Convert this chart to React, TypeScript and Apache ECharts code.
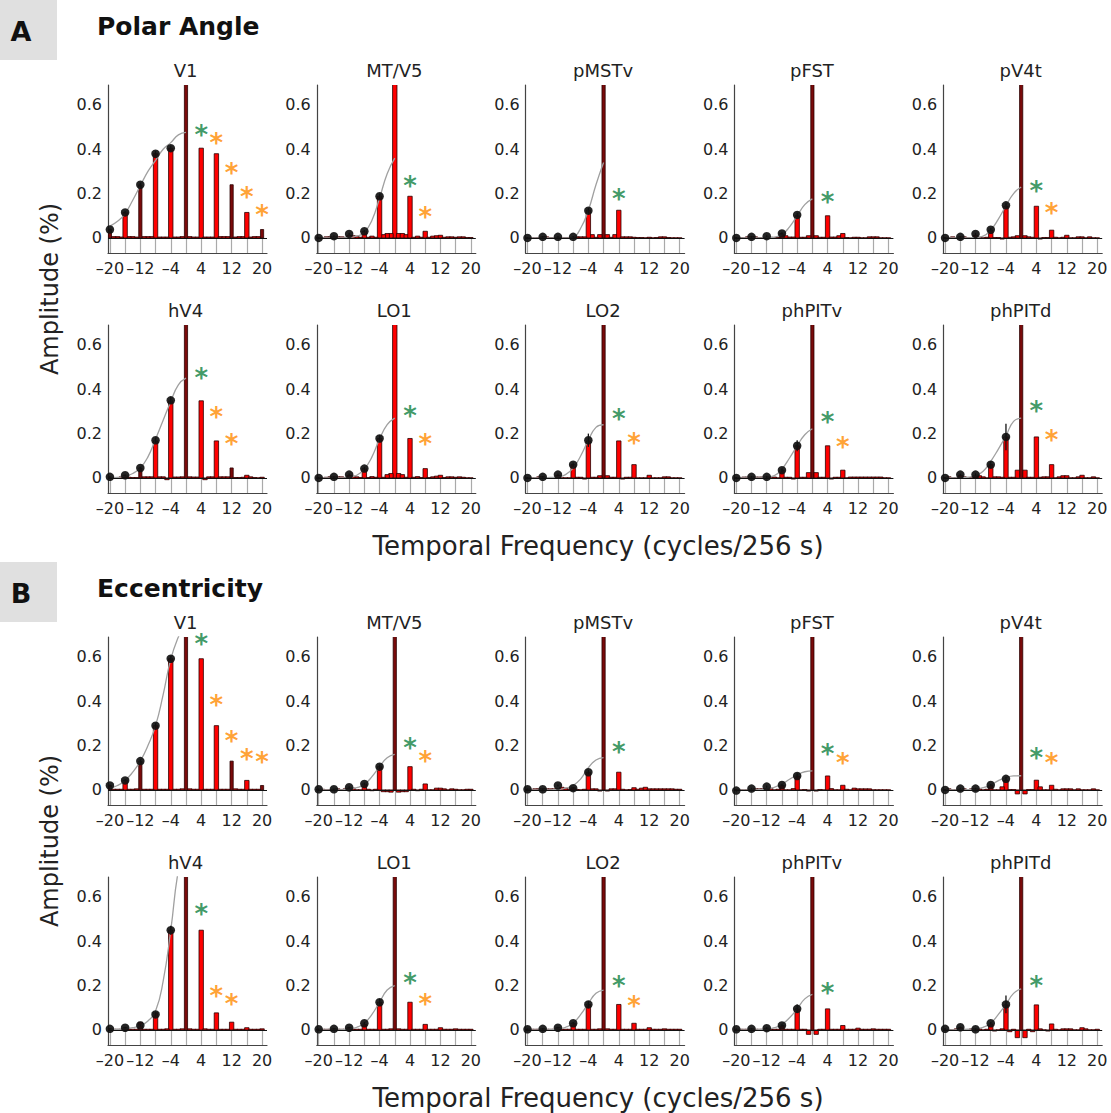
import React, { useEffect, useRef } from 'react';
import * as echarts from 'echarts';

// ---------------- DATA ----------------
const PANEL_NAMES = ['V1', 'MT/V5', 'pMSTv', 'pFST', 'pV4t', 'hV4', 'LO1', 'LO2', 'phPITv', 'phPITd'];
const HALF_FREQS = [0, 1, 2, 3, 4, 5, 6, 7, 8, 9, 10, 11, 12, 13, 14, 15, 16, 17, 18, 19, 20];
const DOT_FREQS = [-20, -16, -12, -8, -4];
const CURVE_X = [-20, -18, -16, -14, -12, -10, -8, -6, -4, -2, 0];
const X_TICKS = [-20, -16, -12, -8, -4, 0, 4, 8, 12, 16, 20];
const X_LABELS = [-20, -12, -4, 4, 12, 20];
const Y_LABELS = [0, 0.2, 0.4, 0.6];

// amplitude at |frequency| = 0..20 (spectrum is symmetric); centre bar is off-scale
const AMP_POLAR = [
  [0.9, 0.006, 0.004, 0.004, 0.405, 0.004, 0.004, 0.004, 0.38, 0.006, 0.006, 0.006, 0.24, 0.004, 0.006, 0.006, 0.115, 0.004, 0.006, 0.006, 0.038],
  [0.9, 0.02, 0.02, 0.015, 0.188, 0.003, 0.008, 0.003, 0.03, 0.003, 0.008, 0.01, 0.012, 0.003, 0.005, 0.005, 0.003, 0.005, 0.005, 0.002, 0.002],
  [0.9, 0.015, 0.003, 0.015, 0.125, 0.005, 0.005, 0.005, 0.003, 0.002, 0.002, 0.001, 0.003, 0.001, 0.002, 0.005, 0.005, 0.002, 0.001, 0.001, 0.001],
  [0.9, 0.01, 0.003, 0.003, 0.1, 0.004, 0.004, 0.01, 0.02, 0.002, 0.001, 0.003, 0.003, 0.001, 0.001, 0.005, 0.005, 0.005, 0.001, 0.001, 0.001],
  [0.9, 0.01, 0.005, 0.003, 0.143, -0.005, 0.002, 0.002, 0.035, 0.003, 0.001, 0.003, 0.012, 0.001, 0.001, 0.005, 0.005, 0.001, 0.005, 0.001, 0.001],
  [0.9, 0.005, 0.004, 0.004, 0.348, -0.008, 0.005, 0.005, 0.167, 0.005, 0.005, 0.005, 0.045, 0.002, 0.002, 0.003, 0.012, 0.005, 0.002, 0.001, 0.003],
  [0.9, 0.02, 0.015, 0.003, 0.178, 0.003, 0.006, 0.002, 0.042, 0.002, 0.005, 0.008, 0.012, 0.002, 0.005, 0.005, 0.003, 0.005, 0.003, 0.001, 0.001],
  [0.9, 0.01, 0.003, 0.003, 0.167, -0.005, 0.003, 0.003, 0.06, 0.001, 0.001, 0.001, 0.012, 0.001, 0.001, 0.001, 0.005, 0.005, 0.001, 0.001, 0.001],
  [0.9, 0.024, 0.003, 0.003, 0.145, -0.005, 0.003, 0.003, 0.035, 0.001, 0.004, 0.004, 0.004, 0.004, 0.004, 0.004, 0.004, 0.004, 0.004, 0.001, 0.001],
  [0.9, 0.035, 0.003, 0.003, 0.185, 0.003, 0.005, 0.005, 0.06, 0.001, 0.005, 0.01, 0.01, 0.001, 0.001, 0.005, 0.012, 0.001, 0.001, 0.005, 0.001],
];
const AMP_ECC = [
  [0.9, 0.005, 0.003, 0.003, 0.592, 0.003, 0.003, 0.003, 0.29, 0.003, 0.003, 0.003, 0.13, 0.005, 0.003, 0.003, 0.043, 0.003, 0.003, 0.003, 0.02],
  [0.9, -0.01, -0.008, -0.008, 0.105, 0.003, -0.003, 0.003, 0.027, 0.001, 0.001, 0.008, 0.008, 0.005, 0.001, 0.005, 0.003, 0.001, 0.001, 0.003, 0.003],
  [0.9, -0.005, 0.005, 0.005, 0.08, 0.003, 0.001, 0.002, 0.01, 0.003, 0.008, 0.012, 0.005, 0.005, 0.005, 0.005, 0.005, 0.005, 0.005, 0.003, 0.003],
  [0.9, -0.005, 0.002, 0.001, 0.063, 0.006, 0.001, 0.001, 0.021, 0.003, 0.001, 0.008, 0.005, 0.005, 0.005, 0.005, 0.001, 0.001, 0.001, 0.001, 0.001],
  [0.9, -0.018, 0.002, 0.002, 0.044, 0.014, 0.001, 0.001, 0.021, 0.003, 0.001, 0.005, 0.005, 0.005, 0.001, 0.005, 0.001, 0.001, 0.001, 0.005, 0.001],
  [0.9, 0.005, 0.003, 0.003, 0.45, 0.005, 0.003, 0.003, 0.077, 0.003, 0.003, 0.003, 0.035, 0.003, 0.003, 0.003, 0.01, 0.003, 0.003, 0.003, 0.005],
  [0.9, 0.005, 0.003, 0.003, 0.125, 0.003, 0.003, 0.003, 0.025, 0.003, 0.003, 0.003, 0.01, 0.003, 0.003, 0.003, 0.005, 0.003, 0.003, 0.003, 0.003],
  [0.9, 0.005, 0.003, 0.003, 0.115, 0.003, 0.003, 0.003, 0.03, 0.003, 0.003, 0.003, 0.01, 0.003, 0.003, 0.003, 0.005, 0.003, 0.003, 0.003, 0.003],
  [0.9, -0.02, 0.003, 0.003, 0.095, 0.003, 0.003, 0.003, 0.02, 0.003, 0.003, 0.003, 0.008, 0.003, 0.003, 0.003, 0.005, 0.003, 0.003, 0.003, 0.003],
  [0.9, -0.035, 0.003, -0.008, 0.113, 0.005, 0.001, -0.005, 0.027, 0.003, 0.001, 0.005, 0.005, 0.005, 0.001, 0.001, 0.01, 0.005, 0.001, 0.001, 0.003],
];

// black dots at negative harmonics (-20, -16, -12, -8, -4) and their error half-lengths
const DOTS_POLAR = [
  [0.038, 0.115, 0.24, 0.38, 0.405],
  [0, 0.008, 0.018, 0.03, 0.188],
  [0, 0.005, 0.005, 0.005, 0.123],
  [0, 0.005, 0.008, 0.02, 0.104],
  [0, 0.005, 0.018, 0.037, 0.147],
  [0.005, 0.012, 0.045, 0.17, 0.35],
  [0, 0.005, 0.015, 0.042, 0.178],
  [0, 0.005, 0.015, 0.06, 0.17],
  [0, 0.005, 0.005, 0.035, 0.145],
  [0, 0.015, 0.015, 0.06, 0.185],
];
const DOTS_ECC = [
  [0.02, 0.043, 0.13, 0.29, 0.592],
  [0.003, 0.003, 0.012, 0.027, 0.105],
  [0.003, 0.003, 0.02, 0.008, 0.08],
  [-0.003, 0.006, 0.015, 0.022, 0.063],
  [0, 0.006, 0.006, 0.022, 0.05],
  [0.005, 0.01, 0.02, 0.07, 0.45],
  [0.003, 0.005, 0.01, 0.03, 0.125],
  [0.003, 0.005, 0.01, 0.03, 0.115],
  [0.003, 0.005, 0.008, 0.02, 0.095],
  [0.005, 0.012, 0.003, 0.03, 0.115],
];
const ERR_POLAR = [
  [0.005, 0.008, 0.01, 0.012, 0.012],
  [0.004, 0.004, 0.005, 0.006, 0.012],
  [0.004, 0.004, 0.004, 0.004, 0.012],
  [0.004, 0.004, 0.004, 0.006, 0.01],
  [0.004, 0.004, 0.005, 0.008, 0.012],
  [0.004, 0.004, 0.006, 0.012, 0.015],
  [0.004, 0.004, 0.005, 0.008, 0.015],
  [0.004, 0.004, 0.005, 0.01, 0.03],
  [0.004, 0.004, 0.005, 0.008, 0.025],
  [0.004, 0.004, 0.006, 0.015, 0.06],
];
const ERR_ECC = [
  [0.004, 0.005, 0.008, 0.012, 0.012],
  [0.004, 0.004, 0.005, 0.006, 0.01],
  [0.004, 0.004, 0.005, 0.005, 0.01],
  [0.004, 0.004, 0.005, 0.005, 0.012],
  [0.004, 0.004, 0.004, 0.005, 0.01],
  [0.004, 0.004, 0.005, 0.01, 0.02],
  [0.004, 0.004, 0.004, 0.006, 0.015],
  [0.004, 0.004, 0.004, 0.006, 0.015],
  [0.004, 0.004, 0.004, 0.006, 0.02],
  [0.004, 0.004, 0.004, 0.006, 0.04],
];

// grey fitted curve sampled at CURVE_X
const CURVE_POLAR = [
  [0.053, 0.075, 0.11, 0.17, 0.236, 0.3, 0.35, 0.4, 0.43, 0.465, 0.476],
  [0, 0, 0, 0, 0.003, 0.008, 0.025, 0.08, 0.18, 0.29, 0.36],
  [0, 0, 0, 0, 0, 0, 0.004, 0.045, 0.125, 0.24, 0.34],
  [0, 0, 0, 0, 0.001, 0.004, 0.015, 0.05, 0.1, 0.15, 0.176],
  [0, 0, 0, 0, 0.002, 0.008, 0.035, 0.085, 0.145, 0.2, 0.23],
  [0, 0.002, 0.008, 0.02, 0.045, 0.095, 0.175, 0.26, 0.345, 0.42, 0.45],
  [0, 0, 0, 0, 0.003, 0.012, 0.04, 0.095, 0.175, 0.24, 0.27],
  [0, 0, 0, 0.002, 0.005, 0.015, 0.045, 0.1, 0.17, 0.228, 0.24],
  [0, 0, 0, 0, 0.003, 0.01, 0.04, 0.09, 0.145, 0.195, 0.222],
  [0, 0, 0, 0.003, 0.01, 0.03, 0.075, 0.13, 0.19, 0.255, 0.27],
];
const CURVE_ECC = [
  [0.008, 0.02, 0.043, 0.08, 0.13, 0.2, 0.29, 0.43, 0.59, 0.69, 0.76],
  [0, 0, 0, 0, 0.003, 0.01, 0.025, 0.06, 0.105, 0.145, 0.16],
  [0, 0, 0, 0, 0.002, 0.008, 0.02, 0.05, 0.1, 0.135, 0.146],
  [0, 0, 0, 0.001, 0.004, 0.012, 0.026, 0.048, 0.068, 0.082, 0.086],
  [0, 0, 0, 0.001, 0.004, 0.01, 0.022, 0.042, 0.056, 0.063, 0.064],
  [0, 0.002, 0.005, 0.01, 0.02, 0.04, 0.085, 0.22, 0.45, 0.72, 0.85],
  [0, 0, 0, 0.001, 0.005, 0.012, 0.03, 0.07, 0.125, 0.18, 0.2],
  [0, 0, 0, 0.001, 0.005, 0.012, 0.03, 0.07, 0.12, 0.165, 0.18],
  [0, 0, 0, 0.001, 0.004, 0.01, 0.025, 0.055, 0.095, 0.14, 0.16],
  [0, 0, 0.002, 0.003, 0.005, 0.012, 0.03, 0.07, 0.115, 0.165, 0.185],
];

// significance stars: green at +4, orange at higher harmonics ([freq, y])
const GREEN_STAR_POLAR = [0.49, 0.26, 0.203, 0.19, 0.237, 0.48, 0.305, 0.295, 0.278, 0.33];
const GREEN_STAR_ECC = [0.684, 0.218, 0.2, 0.19, 0.173, 0.55, 0.24, 0.225, 0.195, 0.225];
const ORANGE_STARS_POLAR = [
  [[8, 0.455], [12, 0.32], [16, 0.21], [20, 0.13]],
  [[8, 0.12]],
  [],
  [],
  [[8, 0.138]],
  [[8, 0.3], [12, 0.18]],
  [[8, 0.18]],
  [[8, 0.185]],
  [[8, 0.167]],
  [[8, 0.2]],
];
const ORANGE_STARS_ECC = [
  [[8, 0.41], [12, 0.25], [16, 0.168], [20, 0.153]],
  [[8, 0.158]],
  [],
  [[8, 0.15]],
  [[8, 0.15]],
  [[8, 0.18], [12, 0.145]],
  [[8, 0.145]],
  [[8, 0.135]],
  [],
  [],
];
// |frequencies| whose bars render dark (maroon)
const DARK_POLAR = [[0, 12, 20], [], [0], [0], [0], [0, 12], [], [0], [0], [0]];
const DARK_ECC = [[0, 12, 20], [0], [0], [0], [0], [0], [0], [0], [0], [0]];

// ---------------- LAYOUT / STYLE ----------------
const COL_LEFT = [108, 316.8, 525.6, 734.4, 943.2];
const ROW_TOP = [85, 325, 637, 877];
const GRID_W = 159;
const GRID_H = 168;
const X_MIN = -20.5;
const X_MAX = 21.3;
const Y_MIN = -0.068;
const Y_MAX = 0.69;
const FONT = 'DejaVu Sans';
const RED = '#ff0000';
const MAROON = '#7a0a0a';
const EDGE = '#2a0000';
const GREEN = '#0f8040';
const ORANGE = '#ff8a00';

function buildOption() {
  const grid: any[] = [];
  const xAxis: any[] = [];
  const yAxis: any[] = [];
  const series: any[] = [];
  const graphic: any[] = [];

  const sections = [
    { amp: AMP_POLAR, dots: DOTS_POLAR, err: ERR_POLAR, curve: CURVE_POLAR, green: GREEN_STAR_POLAR, orange: ORANGE_STARS_POLAR, dark: DARK_POLAR },
    { amp: AMP_ECC, dots: DOTS_ECC, err: ERR_ECC, curve: CURVE_ECC, green: GREEN_STAR_ECC, orange: ORANGE_STARS_ECC, dark: DARK_ECC },
  ];

  let idx = 0;
  sections.forEach((sec, s) => {
    for (let p = 0; p < 10; p++) {
      const row = s * 2 + Math.floor(p / 5);
      const col = p % 5;
      const left = COL_LEFT[col];
      const top = ROW_TOP[row];
      grid.push({ left, top, width: GRID_W, height: GRID_H, containLabel: false });
      xAxis.push({
        type: 'value', gridIndex: idx, min: X_MIN, max: X_MAX,
        axisLine: { show: true, onZero: false, lineStyle: { color: '#444', width: 1.2 } },
        axisTick: { show: true, inside: true, length: 14, customValues: X_TICKS, lineStyle: { color: '#aaa', width: 1.2 } },
        axisLabel: {
          show: true, customValues: X_LABELS, margin: 7, fontFamily: FONT, fontSize: 16, color: '#222',
          formatter: (v: number) => String(v).replace('-', '\u2013'),
        },
        splitLine: { show: false },
      });
      yAxis.push({
        type: 'value', gridIndex: idx, min: Y_MIN, max: Y_MAX,
        axisLine: { show: true, onZero: false, lineStyle: { color: '#444', width: 1.2 } },
        axisTick: { show: false },
        axisLabel: {
          show: true, customValues: Y_LABELS, margin: 6, fontFamily: FONT, fontSize: 16, color: '#222',
          formatter: (v: number) => (Math.abs(v) < 1e-9 ? '0' : v.toFixed(1)),
        },
        splitLine: { show: false },
      });

      const amp = sec.amp[p];
      const dark = sec.dark[p];
      const barData: any[] = [];
      HALF_FREQS.forEach((k, i) => {
        const isDark = dark.indexOf(k) >= 0 ? 1 : 0;
        if (k === 0) barData.push([0, amp[i], isDark]);
        else {
          barData.push([-k, amp[i], isDark]);
          barData.push([k, amp[i], isDark]);
        }
      });
      series.push({
        type: 'custom', xAxisIndex: idx, yAxisIndex: idx, clip: true, z: 2,
        data: barData,
        renderItem: (params: any, api: any) => {
          const x = api.value(0);
          const v = api.value(1);
          const d = api.value(2);
          const b = api.coord([x, 0]);
          const t = api.coord([x, v]);
          const w = d ? 3.2 : 4.4;
          return {
            type: 'rect',
            shape: { x: b[0] - w / 2, y: Math.min(b[1], t[1]), width: w, height: Math.max(Math.abs(b[1] - t[1]), 0.8) },
            style: { fill: d ? MAROON : RED, stroke: EDGE, lineWidth: 0.8 },
          };
        },
      });

      // fitted curve + zero baseline
      series.push({
        type: 'line', xAxisIndex: idx, yAxisIndex: idx, smooth: 0.5,
        symbol: 'none', z: 3, clip: true,
        lineStyle: { color: '#a0a0a0', width: 1.3 },
        data: CURVE_X.map((x, i) => [x, sec.curve[p][i]]),
        markLine: {
          silent: true, symbol: 'none', animation: false,
          label: { show: false },
          lineStyle: { color: '#111', width: 1, type: 'solid' },
          data: [{ yAxis: 0 }],
        },
      });

      // error bars
      series.push({
        type: 'custom', xAxisIndex: idx, yAxisIndex: idx, z: 4, clip: true,
        data: DOT_FREQS.map((f, i) => [f, sec.dots[p][i] - sec.err[p][i], sec.dots[p][i] + sec.err[p][i]]),
        renderItem: (params: any, api: any) => {
          const a = api.coord([api.value(0), api.value(1)]);
          const b = api.coord([api.value(0), api.value(2)]);
          return { type: 'line', shape: { x1: a[0], y1: a[1], x2: b[0], y2: b[1] }, style: { stroke: '#111', lineWidth: 1.3 } };
        },
      });

      // dots
      series.push({
        type: 'scatter', xAxisIndex: idx, yAxisIndex: idx, z: 5, symbolSize: 8.5,
        itemStyle: { color: '#111', opacity: 0.92 },
        data: DOT_FREQS.map((f, i) => [f, sec.dots[p][i]]),
      });

      // stars
      const starData: any[] = [[4, sec.green[p], 0]];
      sec.orange[p].forEach((o: number[]) => starData.push([o[0], o[1], 1]));
      series.push({
        type: 'scatter', xAxisIndex: idx, yAxisIndex: idx, z: 6, symbolSize: 1,
        itemStyle: { color: 'rgba(0,0,0,0)' },
        data: starData.map((d) => ({
          value: [d[0], d[1]],
          label: {
            show: true, position: 'inside', formatter: '*', offset: [0, 6],
            fontFamily: FONT, fontSize: 26, fontWeight: 'bold', color: d[2] ? ORANGE : GREEN,
          },
        })),
      });

      // panel title
      graphic.push({
        type: 'text', x: left + GRID_W / 2 - 2, y: top - 15,
        style: { text: PANEL_NAMES[p], font: `18px "${FONT}"`, fill: '#222', textAlign: 'center', textVerticalAlign: 'middle' },
      });
      idx++;
    }
  });

  // section labels
  const sectionHeaders = [
    { letter: 'A', title: 'Polar Angle', boxTop: 0, titleY: 26 },
    { letter: 'B', title: 'Eccentricity', boxTop: 562, titleY: 588 },
  ];
  sectionHeaders.forEach((h) => {
    graphic.push({ type: 'rect', shape: { x: 0, y: h.boxTop, width: 57, height: 60 }, style: { fill: '#e0e0e0' } });
    graphic.push({
      type: 'text', x: 21, y: h.boxTop + 31,
      style: { text: h.letter, font: `bold 27px "${FONT}"`, fill: '#111', textAlign: 'center', textVerticalAlign: 'middle' },
    });
    graphic.push({
      type: 'text', x: 97, y: h.titleY,
      style: { text: h.title, font: `bold 25px "${FONT}"`, fill: '#111', textAlign: 'left', textVerticalAlign: 'middle' },
    });
  });
  // axis titles
  [289, 841].forEach((cy) => {
    graphic.push({
      type: 'text', x: 50, y: cy, rotation: Math.PI / 2,
      style: { text: 'Amplitude (%)', font: `24px "${FONT}"`, fill: '#222', textAlign: 'center', textVerticalAlign: 'middle' },
    });
  });
  [546, 1098].forEach((cy) => {
    graphic.push({
      type: 'text', x: 598, y: cy,
      style: { text: 'Temporal Frequency (cycles/256 s)', font: `26px "${FONT}"`, fill: '#222', textAlign: 'center', textVerticalAlign: 'middle' },
    });
  });

  return { animation: false, backgroundColor: '#ffffff', grid, xAxis, yAxis, series, graphic };
}

export default function App() {
  const ref = useRef<HTMLDivElement>(null);
  useEffect(() => {
    if (!ref.current) return;
    const chart = echarts.init(ref.current, undefined, { renderer: 'svg' });
    chart.setOption(buildOption() as any);
    return () => chart.dispose();
  }, []);
  return <div ref={ref} style={{ position: 'absolute', left: 0, top: 0, width: 1111, height: 1113 }} />;
}
